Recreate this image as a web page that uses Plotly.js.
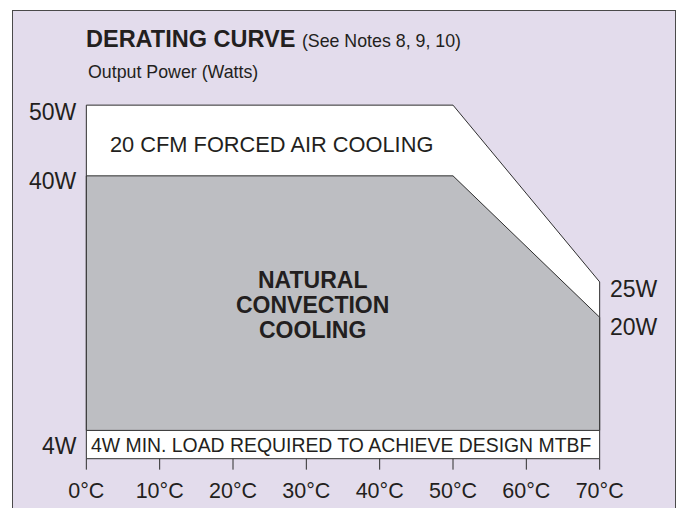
<!DOCTYPE html>
<html>
<head>
<meta charset="utf-8">
<script src="https://cdn.plot.ly/plotly-3.0.1.min.js"></script>
<style>
  html, body { margin: 0; padding: 0; background: #ffffff; width: 679px; height: 508px; overflow: hidden; }
  #frame { position: absolute; left: 12px; top: 10px; width: 662px; height: 520px; border: 1px solid #4a4a4a; background: #e3dcec; }
  #chart { position: absolute; left: 0; top: 0; width: 679px; height: 508px; }
</style>
</head>
<body>
<div id="frame"></div>
<div id="chart"></div>
<script>
// ---- data ----
const tempC = [0, 50, 70];                 // break points of the derating curves (°C)
const forcedAirW = [50, 50, 25];           // 20 CFM forced air cooling (W)
const naturalW = [40, 40, 20];             // natural convection cooling (W)
const minLoadW = 4;                        // minimum load (W)
const tickTemps = [0, 10, 20, 30, 40, 50, 60, 70];
const tickLabels = ["0°C", "10°C", "20°C", "30°C", "40°C", "50°C", "60°C", "70°C"];
const leftLabelsW = [50, 40, 4];
const rightLabelsW = [25, 20];
const naturalLines = ["NATURAL", "CONVECTION", "COOLING"];

const ink = "#231f20";
const lineCol = "#2e2e2e";
const font = "Liberation Sans, Arial, Helvetica, sans-serif";
const last = tempC.length - 1;

// forced-air region (down to 0 W)
const faX = [tempC[0]].concat(tempC, [tempC[last], tempC[0]]);
const faY = [0].concat(forcedAirW, [0, 0]);
// natural convection region (down to min load)
const ncX = [tempC[0]].concat(tempC, [tempC[last], tempC[0]]);
const ncY = [minLoadW].concat(naturalW, [minLoadW, minLoadW]);

// tick marks from the tick values
const tickLen = 1.55;
const tkX = [], tkY = [];
tickTemps.forEach(v => { tkX.push(v, v, null); tkY.push(0, -tickLen, null); });

const traces = [
  { x: faX, y: faY, mode: "lines", fill: "toself", fillcolor: "#ffffff",
    line: { color: lineCol, width: 1 }, hoverinfo: "skip" },
  { x: ncX, y: ncY, mode: "lines", fill: "toself", fillcolor: "#bdbec2",
    line: { color: lineCol, width: 1 }, hoverinfo: "skip" },
  { x: tkX, y: tkY, mode: "lines", line: { color: lineCol, width: 1 }, hoverinfo: "skip" }
];

const ann = [];
const leftShift = { 50: -7, 40: -5, 4: -16 };
leftLabelsW.forEach(w => ann.push({
  x: tempC[0], y: w, xref: "x", yref: "y", text: w + "W", showarrow: false,
  xanchor: "right", yanchor: "middle", xshift: -7, yshift: leftShift[w],
  font: { family: font, size: 23, color: ink }
}));
const rightShift = { 25: -7, 20: -10 };
rightLabelsW.forEach(w => ann.push({
  x: tempC[last], y: w, xref: "x", yref: "y", text: w + "W", showarrow: false,
  xanchor: "left", yanchor: "middle", xshift: 8, yshift: rightShift[w],
  font: { family: font, size: 23, color: ink }
}));
ann.push({
  x: 25.2, y: 44.4, xref: "x", yref: "y", text: "20 CFM FORCED AIR COOLING",
  showarrow: false, xanchor: "center", yanchor: "middle",
  font: { family: font, size: 21.8, color: ink }
});
naturalLines.forEach((t, i) => ann.push({
  x: 30.8, y: 21.7, xref: "x", yref: "y", text: "<b>" + t + "</b>",
  showarrow: false, xanchor: "center", yanchor: "middle",
  yshift: (1 - i) * 25,
  font: { family: font, size: 23, color: ink }
}));
ann.push({
  x: (tempC[0] + tempC[last]) / 2, y: minLoadW / 2, xref: "x", yref: "y",
  text: "4W MIN. LOAD REQUIRED TO ACHIEVE DESIGN MTBF",
  showarrow: false, xanchor: "center", yanchor: "middle", xshift: -2,
  font: { family: font, size: 19.4, color: ink }
});
ann.push({
  x: tempC[0], y: 1.05, xref: "x", yref: "paper", text: "Output Power (Watts)",
  showarrow: false, xanchor: "left", yanchor: "middle",
  font: { family: font, size: 17.8, color: ink }
});

const layout = {
  width: 679, height: 508,
  margin: { l: 79, r: 72, t: 91, b: 38, pad: 0 },
  paper_bgcolor: "rgba(0,0,0,0)",
  plot_bgcolor: "rgba(0,0,0,0)",
  showlegend: false,
  title: {
    text: "<b>DERATING CURVE</b> <span style='font-size:17.8px'>(See Notes 8, 9, 10)</span>",
    x: 86 / 679, xref: "container", xanchor: "left",
    y: 1 - 39 / 508, yref: "container", yanchor: "middle",
    font: { family: font, size: 23.5, color: ink }
  },
  xaxis: {
    range: [-1, 71], showgrid: false, zeroline: false, showline: false,
    tickmode: "array", tickvals: tickTemps, ticktext: tickLabels, ticks: "",
    ticklabelstandoff: 5,
    tickfont: { family: font, size: 21.5, color: ink }, fixedrange: true
  },
  yaxis: {
    range: [-1.6, 52], showgrid: false, zeroline: false, showline: false,
    showticklabels: false, ticks: "", fixedrange: true
  },
  annotations: ann
};

Plotly.newPlot("chart", traces, layout, { displayModeBar: false, staticPlot: true });
</script>
</body>
</html>
